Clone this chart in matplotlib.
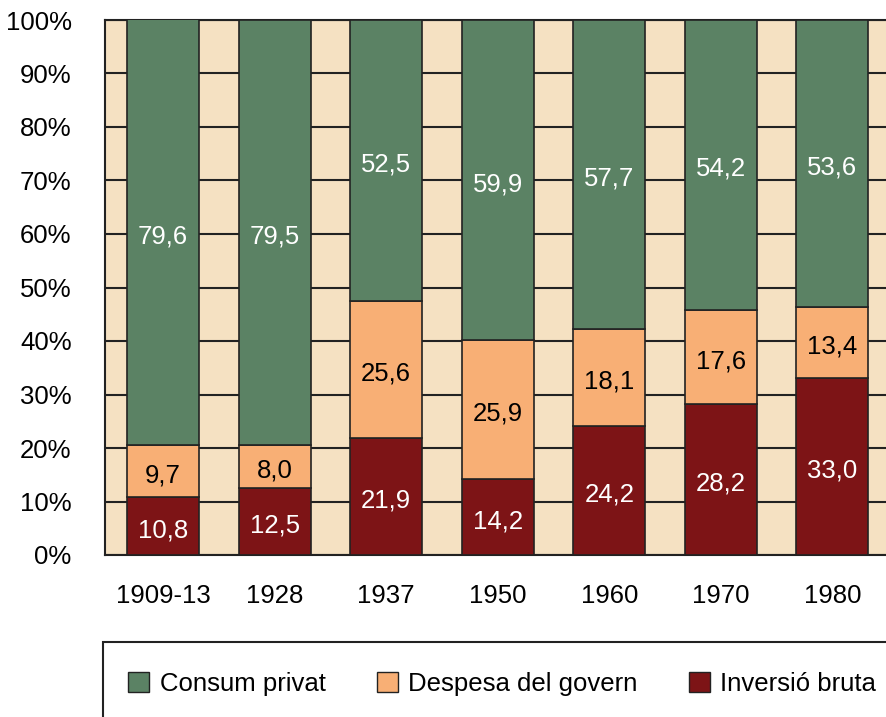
import matplotlib.pyplot as plt
import matplotlib.transforms as mtransforms
from matplotlib.patches import Rectangle, Patch

years = ['1909-13', '1928', '1937', '1950', '1960', '1970', '1980']
inversio = [10.8, 12.5, 21.9, 14.2, 24.2, 28.2, 33.0]
despesa = [9.7, 8.0, 25.6, 25.9, 18.1, 17.6, 13.4]
consum = [79.6, 79.5, 52.5, 59.9, 57.7, 54.2, 53.6]

c_green = '#5b8264'
c_orange = '#f8af75'
c_red = '#7d1416'
c_bg = '#f5e1c2'
c_line = '#222222'

plt.rcParams['font.family'] = ['Liberation Sans', 'DejaVu Sans']
fs = 18.5

fig = plt.figure(figsize=(8.86, 7.17), dpi=100)
ax = fig.add_axes([105 / 886, 162 / 717, 1 - 105 / 886, 535 / 717])
ax.set_facecolor(c_bg)

x = list(range(len(years)))
w = 0.645
bottom2 = [a + b for a, b in zip(inversio, despesa)]
ax.bar(x, inversio, w, color=c_red, edgecolor=c_line, linewidth=1.2, zorder=3)
ax.bar(x, despesa, w, bottom=inversio, color=c_orange, edgecolor=c_line, linewidth=1.2, zorder=3)
ax.bar(x, consum, w, bottom=bottom2, color=c_green, edgecolor=c_line, linewidth=1.2, zorder=3)

# value labels, nudged a little below the segment centre
shift = ax.transData + mtransforms.ScaledTranslation(0, -4 / 100, fig.dpi_scale_trans)
for vals, bots, col in [(inversio, [0] * len(x), 'white'),
                        (despesa, inversio, 'black'),
                        (consum, bottom2, 'white')]:
    for xi, v, b in zip(x, vals, bots):
        ax.text(xi, b + v / 2, f'{v:.1f}'.replace('.', ','), ha='center', va='center',
                color=col, fontsize=fs, zorder=4, transform=shift)

ax.set_ylim(0, 100)
ax.set_xlim(-0.52, 6.48)
ax.set_yticks(range(0, 101, 10))
ax.set_yticklabels([f'{v}%' for v in range(0, 101, 10)], fontsize=fs)
ax.set_xticks(x)
ax.set_xticklabels(years, fontsize=fs)
ax.tick_params(axis='both', length=0)
ax.tick_params(axis='y', pad=24)
ax.tick_params(axis='x', pad=21)
ax.yaxis.grid(True, color=c_line, linewidth=1.5, zorder=1)
ax.set_axisbelow(True)
for s in ['left', 'top', 'bottom']:
    ax.spines[s].set_color(c_line)
    ax.spines[s].set_linewidth(1.5)
ax.spines['right'].set_visible(False)

# legend box
fig.patches.append(Rectangle((103 / 886, -0.05), 1, 75 / 717 + 0.05, transform=fig.transFigure,
                             facecolor='white', edgecolor=c_line, linewidth=1.5, clip_on=False))
handles = [Patch(facecolor=c_green, edgecolor=c_line, label='Consum privat'),
           Patch(facecolor=c_orange, edgecolor=c_line, label='Despesa del govern'),
           Patch(facecolor=c_red, edgecolor=c_line, label='Inversió bruta')]
fig.legend(handles=handles, loc='center left', bbox_to_anchor=(118 / 886, 33 / 717), ncol=3,
           frameon=False, fontsize=fs, handlelength=0.82, handleheight=0.82,
           handletextpad=0.4, columnspacing=2.0, borderaxespad=0)

fig.savefig('out.png', dpi=100)
